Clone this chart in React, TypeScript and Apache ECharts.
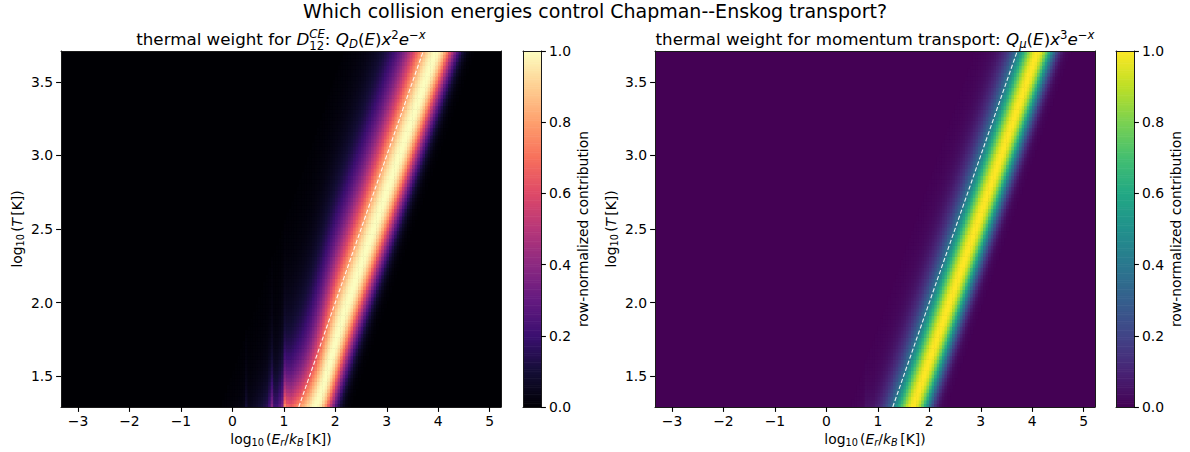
import { useEffect, useRef } from "react";
import * as echarts from "echarts";

const FONT = '"DejaVu Sans", "Liberation Sans", sans-serif';

// Axis extents in log10 units
const LOG_E_RANGE = [-3.33, 5.22];
const LOG_T_RANGE = [1.29, 3.71];
const X_TICKS = [-3, -2, -1, 0, 1, 2, 3, 4, 5];
const Y_TICKS = [1.5, 2.0, 2.5, 3.0, 3.5];
const CBAR_TICKS = [0, 0.2, 0.4, 0.6, 0.8, 1.0];

// Cell grid (log10 units): energy columns of 0.05, temperature rows of 0.025
const BIN = 0.05;
const ROW = 0.025;
const E_EDGE0 = -3.35;
const E_BINS = 172;
const T_CENTER0 = 1.3;
const T_ROWS = 97;

// Thermal weight vs u = log10(E / kT); one value per 0.05 bin starting at U0
const PROFILE_D_U0 = -1.5;
const profileD = [
  0.007, 0.009, 0.011, 0.013, 0.016, 0.019, 0.023, 0.027, 0.033, 0.039,
  0.047, 0.056, 0.067, 0.079, 0.094, 0.111, 0.131, 0.155, 0.182, 0.213,
  0.248, 0.287, 0.332, 0.381, 0.435, 0.492, 0.554, 0.619, 0.685, 0.751,
  0.815, 0.873, 0.923, 0.962, 0.989, 1.0, 0.986, 0.944, 0.873, 0.78,
  0.667, 0.544, 0.42, 0.307, 0.209, 0.133, 0.077, 0.041, 0.019, 0.008,
  0.003, 0.001, 0.0,
];
const PROFILE_MU_U0 = -0.8;
const profileMu = [
  0.004, 0.006, 0.008, 0.011, 0.015, 0.02, 0.028, 0.037, 0.05, 0.066,
  0.088, 0.115, 0.15, 0.193, 0.246, 0.31, 0.384, 0.469, 0.562, 0.661,
  0.76, 0.852, 0.929, 0.981, 1.0, 0.98, 0.917, 0.816, 0.688, 0.545,
  0.401, 0.273, 0.17, 0.096, 0.048, 0.021, 0.008, 0.003, 0.001,
];

// Relative cross-section structure at low collision energy, bins of 0.05 from log10 E = 0
const XSEC_E0 = 0.0;
const crossSectionD = [
  1.0, 1.0, 1.0, 1.0, 1.2, 2.5, 1.1, 1.0, 1.0, 1.0,
  1.0, 1.0, 1.0, 1.0, 1.3, 1.9, 0.9, 0.8, 0.9, 1.0,
  1.9, 1.5, 1.3, 1.2, 1.15, 1.12, 1.08, 1.08, 1.08, 1.1,
  1.13, 1.17, 1.22, 1.28, 1.35, 1.42, 1.49, 1.55, 1.6, 1.64,
  1.67, 1.69, 1.7,
];
const crossSectionMu = [
  1.0, 1.0, 1.0, 1.0, 1.0, 1.0, 1.0, 1.0, 1.0, 1.0,
  1.0, 1.0, 1.0, 1.0, 1.0, 2.0, 1.5, 1.2, 1.0,
];

// E = kT reference line
const KT_LINE = [1.29, 3.71];

const MAGMA = [
  "#000004", "#140e36", "#3b0f70", "#641a80", "#8c2981", "#b73779",
  "#de4968", "#f7705c", "#fe9f6d", "#fecf92", "#fcfdbf",
];
const VIRIDIS = [
  "#440154", "#482475", "#414487", "#355f8d", "#2a788e", "#21918c",
  "#22a884", "#44bf70", "#7ad151", "#bddf26", "#fde725",
];

// Thermal weight of a cell: a cell that straddles two profile bins takes the mean of both
function profileAt(profile: number[], u0: number, u: number) {
  const f = Math.round(((u - u0) / BIN) * 2) / 2;
  const lo = Math.floor(f);
  const hi = Math.ceil(f);
  const get = (k: number) => (k >= 0 && k < profile.length ? profile[k] : 0);
  return (get(lo) + get(hi)) / 2;
}

function buildField(profile: number[], u0: number, xsec: number[]) {
  const cells: number[][] = [];
  for (let j = 0; j < T_ROWS; j++) {
    const y = T_CENTER0 + j * ROW;
    const row: number[][] = [];
    let max = 0;
    for (let i = 0; i < E_BINS; i++) {
      const x = E_EDGE0 + (i + 0.5) * BIN;
      const p = profileAt(profile, u0, x - y);
      const qi = Math.min(Math.max(Math.floor((x - XSEC_E0) / BIN), 0), xsec.length - 1);
      const v = p * xsec[qi];
      if (v > max) max = v;
      row.push([x, y, v]);
    }
    for (const c of row) {
      const v = max > 0 ? c[2] / max : 0;
      if (v > 0.003) cells.push([c[0], c[1], v]);
    }
  }
  return cells;
}

const cbarLevels = Array.from({ length: 200 }, (_, k) => (k + 0.5) / 200);

type Piece = { t: string; k?: number; it?: boolean; rise?: number; hold?: boolean };

let measureCtx: CanvasRenderingContext2D | null = null;
function measure(t: string, size: number, italic: boolean) {
  if (!measureCtx) measureCtx = document.createElement("canvas").getContext("2d");
  measureCtx!.font = `${italic ? "italic " : ""}${size}px ${FONT}`;
  return measureCtx!.measureText(t).width;
}

// Lay out a line of mixed upright/italic/sub/sup text, baseline at y = 0, centred on x = 0
function mathLine(pieces: Piece[], size: number) {
  const placed: { p: Piece; s: number; x: number }[] = [];
  let x = 0;
  let held = 0;
  for (const p of pieces) {
    const s = size * (p.k ?? 1);
    const w = measure(p.t, s, !!p.it);
    placed.push({ p, s, x });
    if (p.hold) held = w;
    else {
      x += Math.max(w, held);
      held = 0;
    }
  }
  const total = x;
  return placed.map(({ p, s, x: px }) => ({
    type: "text",
    x: px - total / 2,
    y: -(p.rise ?? 0) * size - 0.346 * s,
    silent: true,
    style: {
      text: p.t,
      fill: "#000",
      fontSize: s,
      lineHeight: Math.round(s * 0.92),
      fontFamily: FONT,
      fontStyle: p.it ? "italic" : "normal",
      align: "left",
      verticalAlign: "middle",
    },
  }));
}

function mathGroup(pieces: Piece[], size: number, x: number, y: number, rotation = 0) {
  return { type: "group", x, y, rotation, children: mathLine(pieces, size) };
}

const SUB = -0.17;
const SUP = 0.33;

const titleD: Piece[] = [
  { t: "thermal weight for " },
  { t: "D", it: true },
  { t: "12", k: 0.7, rise: -0.28, hold: true },
  { t: "CE", k: 0.7, it: true, rise: 0.44 },
  { t: ": " },
  { t: "Q", it: true },
  { t: "D", k: 0.7, it: true, rise: SUB },
  { t: "(" },
  { t: "E", it: true },
  { t: ")" },
  { t: "x", it: true },
  { t: "2", k: 0.7, rise: SUP },
  { t: "e", it: true },
  { t: "\u2212", k: 0.7, rise: SUP },
  { t: "x", k: 0.7, it: true, rise: SUP },
];
const titleMu: Piece[] = [
  { t: "thermal weight for momentum transport: " },
  { t: "Q", it: true },
  { t: "\u03bc", k: 0.7, it: true, rise: SUB },
  { t: "(" },
  { t: "E", it: true },
  { t: ")" },
  { t: "x", it: true },
  { t: "3", k: 0.7, rise: SUP },
  { t: "e", it: true },
  { t: "\u2212", k: 0.7, rise: SUP },
  { t: "x", k: 0.7, it: true, rise: SUP },
];
const xName: Piece[] = [
  { t: "log" },
  { t: "10", k: 0.7, rise: SUB },
  { t: " ", k: 0.5 },
  { t: "(" },
  { t: "E", it: true },
  { t: "r", k: 0.7, it: true, rise: SUB },
  { t: "/" },
  { t: "k", it: true },
  { t: "B", k: 0.7, it: true, rise: SUB },
  { t: " ", k: 0.6 },
  { t: "[K])" },
];
const yName: Piece[] = [
  { t: "log" },
  { t: "10", k: 0.7, rise: SUB },
  { t: " ", k: 0.5 },
  { t: "(" },
  { t: "T", it: true },
  { t: " ", k: 0.5 },
  { t: "[K])" },
];

const TICK_FONT = 13.9;
const TITLE_FONT = 16.7;

const PANELS = [
  { left: 61, cbarLeft: 523, colors: MAGMA, profile: profileD, u0: PROFILE_D_U0, xsec: crossSectionD, title: titleD },
  { left: 655, cbarLeft: 1116, colors: VIRIDIS, profile: profileMu, u0: PROFILE_MU_U0, xsec: crossSectionMu, title: titleMu },
];
const TOP = 51;
const PLOT_W = 440;
const PLOT_H = 356;
const CBAR_W = 18;

const frameLine = { show: true, onZero: false, lineStyle: { color: "#1a1a1a", width: 1 } };
const tickStyle = { length: 4.9, inside: false, lineStyle: { color: "#000", width: 1.1 } };
const bare = { axisLine: frameLine, splitLine: { show: false }, axisTick: { show: false }, axisLabel: { show: false } };

// Rectangle between two data corners, kept inside the plotting area
function cellRect(params: any, api: any, lo: number[], hi: number[]) {
  const cs = params.coordSys;
  const a = api.coord(lo);
  const b = api.coord(hi);
  const x0 = Math.max(Math.min(a[0], b[0]) - 0.3, cs.x);
  const x1 = Math.min(Math.max(a[0], b[0]) + 0.3, cs.x + cs.width);
  const y0 = Math.max(Math.min(a[1], b[1]) - 0.3, cs.y);
  const y1 = Math.min(Math.max(a[1], b[1]) + 0.3, cs.y + cs.height);
  if (x1 <= x0 || y1 <= y0) return null;
  return {
    type: "rect",
    shape: { x: x0, y: y0, width: x1 - x0, height: y1 - y0 },
    style: { fill: api.visual("color") },
  };
}

function buildOption() {
  const grid: any[] = [];
  const xAxis: any[] = [];
  const yAxis: any[] = [];
  const series: any[] = [];
  const visualMap: any[] = [];
  const graphics: any[] = [];

  PANELS.forEach((pn) => {
    const gPlot = grid.length;
    grid.push({
      left: pn.left, top: TOP, width: PLOT_W, height: PLOT_H,
      show: true, backgroundColor: pn.colors[0], borderWidth: 0,
    });
    const gBar = grid.length;
    grid.push({ left: pn.cbarLeft, top: TOP, width: CBAR_W, height: PLOT_H, show: false });

    const xi = xAxis.length;
    xAxis.push(
      {
        type: "value", gridIndex: gPlot, min: LOG_E_RANGE[0], max: LOG_E_RANGE[1], position: "bottom", z: 10,
        axisLine: frameLine, splitLine: { show: false },
        axisTick: { ...tickStyle, customValues: X_TICKS },
        axisLabel: {
          customValues: X_TICKS, margin: 7, color: "#000", fontSize: TICK_FONT, fontFamily: FONT,
          formatter: (v: number) => (v < 0 ? "\u2212" + Math.abs(v) : String(v)),
        },
      },
      { type: "value", gridIndex: gPlot, min: LOG_E_RANGE[0], max: LOG_E_RANGE[1], position: "top", z: 10, ...bare },
    );
    const yi = yAxis.length;
    yAxis.push(
      {
        type: "value", gridIndex: gPlot, min: LOG_T_RANGE[0], max: LOG_T_RANGE[1], position: "left", z: 10,
        axisLine: frameLine, splitLine: { show: false },
        axisTick: { ...tickStyle, customValues: Y_TICKS },
        axisLabel: {
          customValues: Y_TICKS, margin: 8, color: "#000", fontSize: TICK_FONT, fontFamily: FONT,
          formatter: (v: number) => v.toFixed(1),
        },
      },
      { type: "value", gridIndex: gPlot, min: LOG_T_RANGE[0], max: LOG_T_RANGE[1], position: "right", z: 10, ...bare },
    );
    const cxi = xAxis.length;
    xAxis.push(
      { type: "value", gridIndex: gBar, min: 0, max: 1, position: "bottom", z: 10, ...bare },
      { type: "value", gridIndex: gBar, min: 0, max: 1, position: "top", z: 10, ...bare },
    );
    const cyi = yAxis.length;
    yAxis.push(
      { type: "value", gridIndex: gBar, min: 0, max: 1, position: "left", z: 10, ...bare },
      {
        type: "value", gridIndex: gBar, min: 0, max: 1, position: "right", z: 10,
        axisLine: frameLine, splitLine: { show: false },
        axisTick: { ...tickStyle, customValues: CBAR_TICKS },
        axisLabel: {
          customValues: CBAR_TICKS, margin: 8, color: "#000", fontSize: TICK_FONT, fontFamily: FONT,
          formatter: (v: number) => v.toFixed(1),
        },
      },
    );

    const sField = series.length;
    series.push({
      type: "custom",
      xAxisIndex: xi,
      yAxisIndex: yi,
      silent: true,
      dimensions: ["logE", "logT", "w"],
      encode: { x: 0, y: 1 },
      data: buildField(pn.profile, pn.u0, pn.xsec),
      renderItem: (params: any, api: any) => {
        const x = api.value(0);
        const y = api.value(1);
        return cellRect(params, api, [x - BIN / 2, y - ROW / 2], [x + BIN / 2, y + ROW / 2]);
      },
    });
    series.push({
      type: "line",
      xAxisIndex: xi,
      yAxisIndex: yi,
      z: 5,
      silent: true,
      symbol: "none",
      data: [[KT_LINE[0], KT_LINE[0]], [KT_LINE[1], KT_LINE[1]]],
      lineStyle: { color: "rgba(255,255,255,0.9)", width: 1.1, type: [4.2, 2.2] },
    });
    const sBar = series.length;
    series.push({
      type: "custom",
      xAxisIndex: cxi,
      yAxisIndex: cyi,
      silent: true,
      dimensions: ["x", "level", "w"],
      encode: { x: 0, y: 1 },
      data: cbarLevels.map((v) => [0.5, v, v]),
      renderItem: (params: any, api: any) => {
        const v = api.value(1);
        const h = 1 / cbarLevels.length;
        return cellRect(params, api, [0, v - h / 2], [1, v + h / 2]);
      },
    });
    visualMap.push({
      type: "continuous", show: false, min: 0, max: 1, dimension: 2,
      seriesIndex: [sField, sBar], inRange: { color: pn.colors },
    });

    const cx = pn.left + PLOT_W / 2;
    graphics.push(mathGroup(pn.title, TITLE_FONT, cx, 45));
    graphics.push(mathGroup(xName, TICK_FONT, cx, 444));
    graphics.push(mathGroup(yName, TICK_FONT, pn.left - 39, TOP + PLOT_H / 2, Math.PI / 2));
    graphics.push({
      type: "text",
      x: pn.cbarLeft + 60,
      y: TOP + PLOT_H / 2,
      rotation: Math.PI / 2,
      silent: true,
      style: {
        text: "row-normalized contribution", fill: "#000", fontSize: TICK_FONT, fontFamily: FONT,
        align: "center", verticalAlign: "middle",
      },
    });
  });

  graphics.push({
    type: "text",
    x: 595,
    y: 17.5 - 0.346 * 19,
    silent: true,
    style: {
      text: "Which collision energies control Chapman--Enskog transport?",
      fill: "#000", fontSize: 19, fontFamily: FONT, align: "center", verticalAlign: "middle",
    },
  });

  return {
    animation: false,
    backgroundColor: "#ffffff",
    grid, xAxis, yAxis, series, visualMap,
    graphic: { elements: graphics },
  };
}

export default function App() {
  const ref = useRef<HTMLDivElement>(null);
  useEffect(() => {
    if (!ref.current) return;
    const chart = echarts.init(ref.current, undefined, { renderer: "svg", width: 1190, height: 452 });
    chart.setOption(buildOption() as any);
    return () => chart.dispose();
  }, []);
  return (
    <div
      ref={ref}
      style={{ position: "fixed", left: 0, top: 0, width: 1190, height: 452, background: "#fff" }}
    />
  );
}
